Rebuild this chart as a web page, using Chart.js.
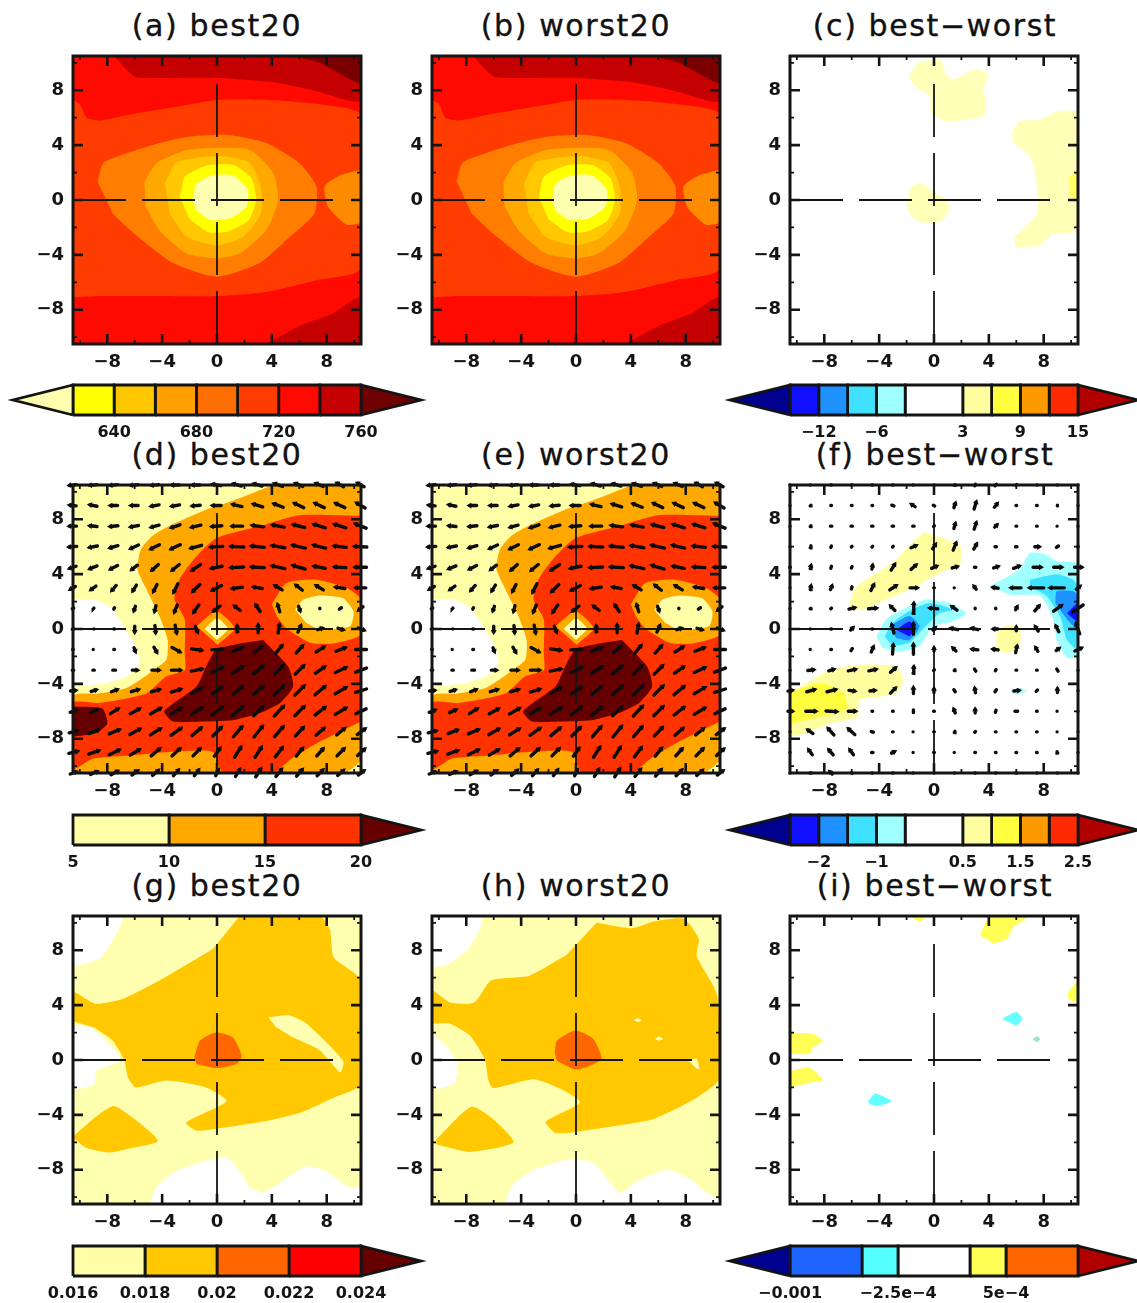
<!DOCTYPE html>
<html>
<head>
<meta charset="utf-8">
<title>best20 / worst20 composites</title>
<script src="https://cdn.jsdelivr.net/npm/chart.js@4"></script>
<style>
  html, body { margin: 0; padding: 0; background: #fff; }
  #page { position: relative; width: 1137px; height: 1303px; overflow: hidden; }
  #page canvas { position: absolute; }
  .title {
    position: absolute; width: 340px; text-align: center; white-space: nowrap;
    font: 30px "DejaVu Sans", sans-serif; letter-spacing: 1.6px; color: #111; line-height: 34px;
    -webkit-text-stroke: 0.35px #111;
  }
</style>
</head>
<body>
<div id="page"></div>
<script>
// axes
const axisTicks = [-8, -4, 0, 4, 8];
const minorTicks = [-10, -6, -2, 2, 6, 10];
const axisMin = -10.5;
const axisMax = 10.5;
const crossEnd = 8.46;

// colour keys
const levelsA = [620, 640, 660, 680, 700, 720, 740, 760];
const coloursA = ['#ffffb0', '#ffff00', '#ffc800', '#ff9f00', '#ff6e00', '#ff3c00', '#ff0a00', '#c40000', '#6e0000'];
const keyTicksA = [640, 680, 720, 760];
const keyLabelsA = ['640', '680', '720', '760'];

const levelsC = [-15, -12, -9, -6, -3, 3, 6, 9, 12, 15];
const coloursDiff = ['#000090', '#1010ff', '#1e90ff', '#40e0ff', '#a0ffff', '#ffffff', '#ffffa0', '#ffff40', '#ff9900', '#ff2a00', '#b00000'];
const keyTicksC = [-12, -6, 3, 9, 15];
const keyLabelsC = ['−12', '−6', '3', '9', '15'];

const levelsD = [5, 10, 15, 20];
const coloursD = ['#ffffa8', '#ffa800', '#ff3300', '#660000'];
const keyLabelsD = ['5', '10', '15', '20'];

const levelsF = [-2.5, -2, -1.5, -1, -0.5, 0.5, 1, 1.5, 2, 2.5];
const keyTicksF = [-2, -1, 0.5, 1.5, 2.5];
const keyLabelsF = ['−2', '−1', '0.5', '1.5', '2.5'];

const levelsG = [0.016, 0.018, 0.02, 0.022, 0.024];
const coloursG = ['#ffffa8', '#ffc800', '#ff6600', '#ff0000', '#660000'];
const keyLabelsG = ['0.016', '0.018', '0.02', '0.022', '0.024'];

const levelsI = [-0.001, -0.0005, -0.00025, 0.00025, 0.0005, 0.001];
const coloursI = ['#000090', '#1e64ff', '#55ffff', '#ffffff', '#ffff55', '#ff6600', '#b00000'];
const keyTicksI = [-0.001, -0.00025, 0.0005];
const keyLabelsI = ['−0.001', '−2.5e−4', '5e−4'];

const fullBox = [[-10.5, -10.5], [10.5, -10.5], [10.5, 10.5], [-10.5, 10.5]];

// (a)(b) contours
const topDark = [[-7.5, 10.5], [-6, 9], [-4, 8.9], [0, 8.9], [4, 8.6], [7, 8], [10.5, 7.2], [10.5, 10.5]];
const topDarkest = [[5.6, 10.5], [7.5, 10], [10.5, 8.5], [10.5, 10.5]];
const bottomDark = [[3.6, -10.5], [6, -9.2], [8.4, -8.3], [10.5, -7.1], [10.5, -10.5]];
const level700 = [[-10.5, 7.3], [-10, 7], [-9.5, 6], [-8.5, 5.8], [-6, 6.3], [-3, 6.8], [0, 7.3], [3.6, 7.3], [7.3, 7], [10.5, 6.2], [10.5, -5], [7.25, -5.85], [3.6, -6.7], [0, -7], [-5, -7], [-8.5, -7], [-10.5, -7.1]];
const level680 = [[-8.7, 1.35], [-8.3, 2.7], [-6.9, 3.3], [-4.4, 4.1], [-2.2, 4.6], [0.7, 4.75], [3.6, 4.15], [6, 2.7], [7.25, 1], [7.1, -1], [5.3, -2.7], [3.1, -4.6], [0, -5.6], [-3.2, -4.6], [-6.1, -2.4], [-7.6, -1]];
const eastBlob = [[10.5, 2.2], [9, 1.8], [7.85, 1], [8.1, -0.5], [9.45, -1.8], [10.5, -1.7]];
const level660 = [[-5.3, 1.3], [-4.4, 2.7], [-2.2, 3.65], [0, 3.8], [2.4, 3.65], [4.1, 2], [4.45, 0], [3.6, -2.2], [1.65, -3.9], [0, -4.25], [-2.2, -3.9], [-4.2, -2.2], [-5.2, -0.5]];
const level640 = [[-3.8, 1.2], [-3, 2.7], [-1.3, 3.1], [0.4, 3.2], [2.4, 2.7], [3.2, 1], [3.2, -1], [1.9, -2.7], [0, -3.3], [-2.2, -2.7], [-3.45, -1]];
const level620 = [[-2.7, 0.2], [-2.35, 1.7], [-0.8, 2.5], [1.2, 2.55], [2.5, 1.6], [2.85, 0], [2.3, -1.5], [0.8, -2.3], [-0.6, -2.35], [-2, -1.4]];
const levelEye = [[-1.75, 0], [-1.5, 1.2], [-0.3, 1.8], [1.15, 1.8], [2.25, 0.75], [2.15, -0.5], [0.9, -1.35], [-0.55, -1.45], [-1.5, -0.75]];
const shapesA = [fullBox, topDark, topDarkest, bottomDark, level700, level680, eastBlob, level660, level640, level620, levelEye];
const fillsA = ['#ff0a00', '#c40000', '#7a0000', '#c40000', '#ff3c00', '#ff7d00', '#ff8c00', '#ffa800', '#ffc800', '#ffff00', '#ffffb0'];

// (c) difference
const cNorth = [[-1.05, 10.1], [-1.8, 9], [-1.3, 8.2], [-0.3, 7.55], [-0.2, 6.35], [0.9, 5.75], [3.6, 6.1], [3.8, 7.1], [3.6, 8.05], [3.95, 9.15], [3.1, 9.55], [1.4, 8.8], [0.9, 9.15], [0.55, 10.25]];
const cCentre = [[-2, -0.25], [-1.65, 1], [-0.9, 1.2], [-0.05, 0.6], [0.9, 0], [1.15, -0.75], [0.4, -1.6], [-1.05, -1.6], [-1.8, -1]];
const cEast = [[5.65, 4.9], [6.25, 5.75], [7.75, 5.85], [8.95, 6.45], [10.5, 6.35], [10.5, -2.2], [8.7, -2.45], [7.75, -3.3], [6, -3.4], [5.9, -2.7], [7.5, -1], [7.5, 1.2], [7, 3.2], [5.8, 4.15]];
const cEdge = [[9.8, 1.7], [10.5, 1.95], [10.5, 0], [9.9, 0.25]];
const shapesC = [cNorth, cCentre, cEast, cEdge];
const fillsC = ['#ffffb8', '#ffffb8', '#ffffb8', '#ffff66'];

// (d)(e) wind speed
const speedWhite = [[-10.5, 2.15], [-8.95, 2.15], [-7.85, 1.65], [-7.1, 0.7], [-6.5, -0.3], [-5.9, -1.25], [-5.65, -2.5], [-6.4, -3.35], [-8.1, -3.95], [-10.5, -4.2]];
const speed10 = [[4.1, 10.5], [1.15, 9.35], [-0.8, 8.7], [-3.2, 7.65], [-4.7, 6.8], [-5.55, 5.8], [-5.8, 4.35], [-5.15, 2.9], [-4.2, 0.95], [-3.6, -0.8], [-3.7, -2.25], [-4.9, -3.2], [-6.6, -4.3], [-8.6, -4.7], [-10.5, -4.9], [-10.5, -10.5], [9.2, -10.5], [10.5, -9.45], [10.5, 10.5]];
const speed15 = [[10.5, 8.25], [6, 8.3], [3.1, 7.5], [0, 6.65], [-1.5, 5.3], [-2.75, 3.6], [-3.1, 2.15], [-2.35, 0.7], [-2.35, -1.75], [-2.35, -3], [-3.7, -3.45], [-5.15, -4.7], [-8.6, -5.4], [-10.5, -5.4], [-10.5, -10.2], [-9.05, -9.45], [-6.15, -9.2], [-3.2, -8.95], [-0.3, -8.95], [0.45, -10.5], [4.1, -10.5], [5.3, -9.55], [7.25, -8.35], [10.5, -6.75]];
const ringEast = [[4, 1.8], [5.05, 3.35], [7.25, 3.6], [9.45, 3], [10.5, 2.15], [10.5, -0.4], [8.5, -1.05], [6.8, -1], [5.05, 0.05], [4.35, 0.95]];
const eyeEast = [[5.7, 1.4], [6.3, 2.15], [7.5, 2.45], [9.2, 2.25], [9.95, 1.3], [9.7, 0.2], [7.5, -0.05], [6.5, 0.45]];
const ringCentre = [[-1.5, 0.2], [-0.05, 1.3], [1.3, 0.05], [0.05, -1.15]];
const eyeCentre = [[-0.9, 0], [0, 0.8], [0.8, 0], [0, -0.8]];
const jetCore = [[3.35, -0.8], [5.2, -2.75], [5.55, -4.2], [4.6, -5.4], [3.1, -6.15], [1.15, -6.65], [-1.25, -6.75], [-3.2, -6.75], [-3.85, -6], [-1.5, -4.2], [-0.8, -2.75], [-0.05, -1.5], [1.65, -1.05]];
const jetWest = [[-10.5, -5.65], [-8.35, -5.8], [-8, -6.9], [-8.85, -7.6], [-10.5, -7.85]];
const shapesD = [fullBox, speedWhite, speed10, speed15, ringEast, eyeEast, ringCentre, eyeCentre, jetCore, jetWest];
const fillsD = ['#ffffa8', '#ffffff', '#ffa800', '#ff3300', '#ffa800', '#ffffa8', '#ffa800', '#ffffa8', '#660000', '#660000'];
const shapesE = [fullBox, speedWhite, speed10, speed15, ringEast, eyeEast, ringCentre, eyeCentre, jetCore];
const fillsE = ['#ffffa8', '#ffffff', '#ffa800', '#ff3300', '#ffa800', '#ffffa8', '#ffa800', '#ffffa8', '#660000'];

// (f) difference
const fPaleNorth = [[-6.15, 1.9], [-5.65, 3.1], [-3, 4.85], [-0.8, 7], [0.15, 6.8], [1.9, 6.05], [1.9, 4.7], [0.4, 4.1], [-1.3, 3.1], [-3.5, 2.15], [-5.2, 1.4], [-6.05, 1.4]];
const fPaleSouth = [[-10.5, -4.7], [-7.65, -3], [-5.45, -2.6], [-2.75, -2.75], [-2.25, -3.7], [-2.75, -4.7], [-5.45, -5.2], [-5.55, -6.4], [-7.65, -6.9], [-9.35, -7.6], [-10.5, -7.85]];
const fYellowSouth = [[-10.5, -4.55], [-8.1, -3.95], [-6.55, -4.7], [-6.4, -5.9], [-8.35, -6.4], [-10.5, -6.9]];
const fPaleEast = [[4.55, -0.3], [5.3, 0.3], [6.25, 0], [6.25, -1.25], [5.3, -1.75], [4.55, -1.5]];
const fCyanEast = [[4.05, 3.1], [6.25, 4.35], [7, 5.55], [8.1, 5.45], [8.95, 4.95], [10.5, 4.7], [10.5, -2], [9.7, -2.1], [8.95, -0.8], [8.7, 0.7], [7.75, 2.4], [5.55, 2.5], [4.55, 2.9]];
const fAquaEast = [[7, 3.6], [8.95, 4], [10.15, 3.6], [10.5, 3.1], [10.5, -1.5], [9.7, -0.8], [9.2, 0.9], [8.2, 2.4], [7, 3.1]];
const fBlueEast = [[8.85, 1.9], [8.95, 2.75], [10.15, 2.75], [10.5, 2.4], [10.5, -0.05], [9.7, 0.7]];
const fDeepEast = [[9.7, 1.15], [10.5, 1.9], [10.5, 0.45]];
const fCyanWest = [[-4.2, -0.55], [-3.5, 0.7], [-1.8, 1.65], [-0.55, 2.15], [1.15, 1.9], [2.35, 1.15], [1.4, 0.55], [-0.05, 0.2], [-1.05, -1.25], [-2.5, -1.65], [-3.75, -1.4]];
const fAquaWest = [[-3.6, -0.55], [-3, 0.45], [-1.65, 1.4], [-0.3, 1.9], [1.4, 1.4], [0.4, 1.15], [-0.8, 0], [-1.8, -1], [-3, -1.25]];
const fBlueWest = [[-3.25, 0.2], [-1.8, 0.95], [-1.05, 0.2], [-1.8, -0.8], [-2.75, -0.65]];
const fDeepWest = [[-2.75, -0.05], [-1.8, 0.55], [-1.3, 0.05], [-1.8, -0.55]];
const fCyanSouth = [[5.55, -4.55], [6.25, -4.3], [6.75, -4.55], [6, -4.8]];
const shapesF = [fPaleNorth, fPaleSouth, fYellowSouth, fPaleEast, fCyanEast, fAquaEast, fBlueEast, fDeepEast, fCyanWest, fAquaWest, fBlueWest, fDeepWest, fCyanSouth];
const fillsF = ['#ffffa0', '#ffffa0', '#ffff40', '#ffffa0', '#a0ffff', '#40e0ff', '#1e90ff', '#1010ff', '#a0ffff', '#40e0ff', '#1e90ff', '#1010ff', '#a0ffff'];

// (g)
const gWhiteNw = [[-10.5, 10.5], [-6.9, 10.45], [-7.6, 8.75], [-8.55, 7.4], [-10.5, 6.8]];
const gWhiteW = [[-10.5, 2.5], [-9.3, 2.4], [-8.1, 1.4], [-7, 0], [-8.8, -0.8], [-8.95, -1.75], [-10, -2.1], [-10.5, -2]];
const gWhiteS = [[-4.9, -10.5], [-4.45, -9.3], [-3, -8.1], [-0.8, -7.35], [0.7, -7.1], [1.65, -8.1], [2.4, -9.3], [3.35, -9.65], [4.8, -8.8], [6.5, -7.75], [8, -8.1], [9.45, -9.2], [10.5, -9.35], [10.5, -10.5]];
const gMain = [[1.65, 10.5], [7.5, 10.5], [8.25, 9.45], [8.5, 7.5], [10.5, 5.8], [10.5, -1.75], [8.5, -2.75], [6.05, -3.85], [3.6, -4.45], [-0.3, -5.05], [-1.5, -5.15], [-2.25, -4.55], [0.7, -3], [-0.8, -2], [-3.7, -1.5], [-5.9, -2], [-6.5, -1.25], [-6.75, -0.05], [-7.6, 1.4], [-9.05, 2.4], [-10.5, 2.9], [-10.5, 4.95], [-8.85, 4.1], [-6.9, 4.45], [-4.2, 5.8], [-0.3, 8.1]];
const gSliver = [[3.75, 3.1], [5.3, 3.25], [6.55, 2.65], [9.2, -0.05], [9, -0.9], [7.5, 0.7], [5.55, 1.65], [4.3, 2.4]];
const gSouthWest = [[-10.3, -5.4], [-8.6, -3.95], [-7.5, -3.35], [-6.15, -4.2], [-4.3, -5.9], [-6.15, -6.4], [-7.85, -6.75], [-9.55, -6.4], [-10.5, -5.65]];
const gCore = [[-1.65, 0.2], [-1.25, 1.4], [-0.05, 2], [1.15, 1.65], [1.8, 0.3], [1.4, -0.3], [-0.05, -0.6], [-1.5, -0.3]];
const shapesG = [fullBox, gWhiteNw, gWhiteW, gWhiteS, gMain, gSliver, gSouthWest, gCore];
const fillsG = ['#ffffb0', '#ffffff', '#ffffff', '#ffffff', '#ffc800', '#ffffb0', '#ffc800', '#ff6600'];

// (h)
const hWhiteNw = [[-10.5, 10.45], [-6.9, 10.45], [-6.9, 9.8], [-7.85, 8.1], [-9.3, 7], [-10.5, 6.75]];
const hWhiteW = [[-10.5, 2], [-9.3, 0.8], [-8.6, -0.4], [-8.85, -1.65], [-9.95, -2.1], [-10.5, -2]];
const hWhiteS = [[-5.2, -10.5], [-4.7, -9.2], [-3.1, -8], [-0.45, -7.25], [1.25, -7.5], [2.5, -8.95], [3.2, -9.7], [4.45, -8.85], [6.65, -8], [8.35, -8.7], [9.55, -9.7], [10.5, -10.2], [10.5, -10.5]];
const hMain = [[1.5, 10], [4.1, 9.6], [5.65, 10.1], [7.85, 10.3], [8.95, 8.85], [8.8, 7.6], [10.3, 4.7], [10.5, -1.3], [8.8, -2.75], [5.65, -4.3], [2.25, -4.9], [-0.9, -5.35], [-1.55, -5.3], [-2.2, -4.5], [0.3, -3.1], [-1.15, -2.1], [-3.1, -1.4], [-6.05, -2.05], [-6.4, -1.4], [-6.65, 0.05], [-7.75, 1.8], [-9.2, 2.65], [-10.5, 2.75], [-10.5, 5.05], [-9.2, 4.2], [-7.4, 4.2], [-6.2, 5.8], [-3.4, 6.15], [-0.7, 7.65]];
const hSpotA = [[4.2, 2.9], [4.5, 3.05], [4.8, 2.9], [4.5, 2.75]];
const hSpotB = [[5.75, 1.55], [6.05, 1.7], [6.35, 1.55], [6.05, 1.4]];
const hSpotC = [[8.2, -0.05], [8.8, 0.1], [9, -0.7], [8.75, -0.6]];
const hSouthWest = [[-10.2, -5.8], [-7.65, -3.4], [-6.05, -4.3], [-4.55, -6], [-7.75, -6.7], [-10.2, -6.15]];
const hCore = [[-1.55, 0.55], [-1.4, 1.4], [-0.05, 2.15], [1.25, 1.55], [1.85, 0.05], [0.05, -0.7], [-1.4, -0.05]];
const shapesH = [fullBox, hWhiteNw, hWhiteW, hWhiteS, hMain, hSpotA, hSpotB, hSpotC, hSouthWest, hCore];
const fillsH = ['#ffffb0', '#ffffff', '#ffffff', '#ffffff', '#ffc800', '#ffffb0', '#ffffb0', '#ffffb0', '#ffc800', '#ff6600'];

// (i) difference
const iNorthEast = [[3.35, 9.1], [3.85, 10.2], [4.2, 10.5], [6.9, 10.5], [5.8, 9.7], [5.3, 8.85], [4.3, 8.5]];
const iNorth = [[-1.8, 10.5], [-0.55, 10.5], [-1, 10.05]];
const iEast = [[10.5, 5.8], [9.8, 4.95], [9.8, 4.45], [10.5, 4.2]];
const iWestUp = [[-10.5, 2], [-8.85, 1.9], [-8.1, 1.4], [-8.85, 0.9], [-9.1, 0.45], [-10.5, 0.45]];
const iWestDown = [[-10.5, -0.8], [-9.1, -0.55], [-8.1, -1.45], [-9.1, -1.65], [-10.5, -2]];
const iCyanEast = [[4.95, 3], [6, 3.5], [6.45, 3], [6, 2.5], [5.5, 2.75]];
const iCyanSpot = [[7.2, 1.5], [7.5, 1.75], [7.75, 1.5], [7.5, 1.3]];
const iCyanWest = [[-4.8, -3], [-4.3, -2.45], [-3.1, -3], [-4.2, -3.35], [-4.7, -3.2]];
const shapesI = [iNorthEast, iNorth, iEast, iWestUp, iWestDown, iCyanEast, iCyanSpot, iCyanWest];
const fillsI = ['#ffff55', '#ffff55', '#ffff55', '#ffff55', '#ffff55', '#66ffff', '#99e6cc', '#66ffff'];

// wind grid, rows run top to bottom
const gridX = [-10.5, -9, -7.5, -6, -4.5, -3, -1.5, 0, 1.5, 3, 4.5, 6, 7.5, 9, 10.5];
const gridY = [10.5, 9, 7.5, 6, 4.5, 3, 1.5, 0, -1.5, -3, -4.5, -6, -7.5, -9, -10.5];

const uBest = [
  [-10, -10, -10, -10, -10, -10, -10, -11, -11, -11, -11, -10, -10, -9, -9],
  [-9, -10, -10, -10, -11, -11, -11, -12, -13, -13, -13, -13, -13, -13, -12],
  [-10, -10, -11, -11, -11, -12, -13, -14, -15, -16, -16, -16, -16, -16, -15],
  [-11, -11, -11, -11, -12, -13, -15, -17, -18, -18, -18, -18, -17, -17, -17],
  [-9, -10, -10, -8, -9, -10, -12, -15, -18, -18, -18, -17, -16, -16, -16],
  [-7, -7, -6, -5, -5, -6, -10, -13, -14, -12, -10, -9, -10, -13, -14],
  [-2, -1, -1, -2, -2, -4, -7, -9, -8, -6, -3, 2, 0, -3, -6],
  [-2, -1, -1, 0, 1, 2, 3, 0, -1, 0, 2, 4, 6, 7, 8],
  [1, 1, 1, 2, 4, 11, 14, 15, 13, 10, 9, 9, 11, 13, 16],
  [2, 2, 4, 7, 10, 13, 15, 15, 14, 13, 12, 12, 13, 15, 16],
  [7, 7, 8, 10, 11, 13, 14, 13, 13, 13, 13, 13, 14, 15, 16],
  [8, 9, 11, 13, 14, 14, 15, 14, 14, 13, 13, 13, 14, 15, 15],
  [11, 13, 14, 14, 14, 14, 13, 12, 12, 12, 12, 11, 11, 11, 11],
  [12, 14, 14, 13, 12, 11, 10, 8, 9, 9, 10, 9, 9, 10, 10],
  [8, 9, 9, 8, 8, 7, 6, 4, 6, 7, 8, 8, 8, 8, 8]
];
const vBest = [
  [-1, -1, -1, -1, -1, 0, 0, 2, 3, 3, 4, 4, 4, 5, 5],
  [1, 2, 0, 0, -2, -2, -1, 0, 3, 4, 5, 6, 6, 6, 7],
  [0, 1, -1, -2, -3, -4, -3, -1, 0, 2, 3, 4, 5, 5, 6],
  [-1, -2, -3, -5, -6, -6, -4, -1, 1, 2, 3, 4, 4, 2, 1],
  [-3, -4, -5, -6, -8, -8, -8, -3, -1, 1, 4, 5, 3, 1, 0],
  [-4, -5, -7, -8, -10, -12, -10, -7, -2, 2, 6, 7, 6, 2, 0],
  [-1, -1, -2, -6, -8, -10, -10, -7, 6, 9, 10, -6, -1, -2, -5],
  [-1, 0, 0, -8, -10, -11, -8, 0, 8, 11, 12, 9, 2, -2, -3],
  [0, 0, 0, -5, -7, -6, -2, 1, 5, 9, 11, 10, 7, 5, 0],
  [0, 0, 0, 0, 0, 0, 3, 7, 9, 11, 12, 12, 9, 7, 6],
  [1, 2, 3, 3, 3, 4, 7, 9, 11, 12, 13, 13, 12, 9, 5],
  [3, 4, 7, 7, 8, 8, 9, 11, 12, 13, 14, 13, 11, 9, 7],
  [3, 5, 6, 8, 9, 10, 11, 12, 14, 15, 14, 12, 10, 9, 8],
  [3, 5, 7, 8, 10, 10, 10, 11, 14, 14, 13, 11, 10, 10, 9],
  [3, 4, 5, 6, 7, 8, 8, 8, 10, 11, 10, 9, 8, 7, 6]
];
const uDiff = [
  [0, 1, 1, 1, 1, 1, 1, 0, 1, 1, 2, 1, 0, 0, 0],
  [0, 1, 1, 1, 1, -3, -5, -2, 2, 3, 4, 1, 1, 0, 0],
  [0, 1, 2, 2, 2, 2, 2, 1, 2, 3, 3, 1, 1, 1, 0],
  [0, 1, 1, 1, 1, 1, 7, 4, 4, 4, 2, 2, 6, 3, 1],
  [1, 1, 1, 1, 1, 5, 7, 7, 7, 2, 6, 8, 11, 11, 10],
  [0, 1, 2, 1, 4, 9, 10, 1, 1, -3, -7, -14, -20, -20, 5],
  [0, 1, 1, 8, 11, -6, 1, -11, -7, 0, 0, 2, 6, 11, 15],
  [0, 1, 1, 3, 1, -3, 0, 3, -9, -8, -6, 0, -4, -4, -5],
  [0, 1, 1, 2, 3, 1, 0, 0, -4, -8, -7, 2, -3, 4, 9],
  [0, 8, 7, 10, 10, 7, 1, 1, 1, -2, 1, 1, 1, -2, 0],
  [6, 11, 12, 8, 7, 7, 0, 0, -2, -1, 2, 7, 2, 0, 0],
  [6, 14, 15, 10, 1, 1, 0, 1, -2, 0, 1, 4, 1, 1, 0],
  [0, -7, -8, -9, -3, 1, 1, 1, 1, 1, 1, 1, 1, 1, 0],
  [0, -5, -6, -5, 2, 4, 1, 1, 1, 1, 1, 1, 1, -1, 0],
  [0, 2, -3, -1, 1, 1, 1, 0, 0, 1, 1, 1, 0, 0, 0]
];
const vDiff = [
  [0, 0, 0, 0, 0, 0, 0, 0, 1, 2, 2, 1, 0, 0, 0],
  [0, 1, 0, 0, 0, 1, 3, 1, 6, 10, 5, 0, 0, 1, 0],
  [0, 1, 0, 0, 0, 0, 0, 1, 7, 9, 3, 0, 0, 0, 0],
  [0, 3, 2, 1, 1, 1, 3, 6, 10, 7, 0, 0, 0, 2, 0],
  [0, 4, 3, 2, 5, 8, 6, 3, 2, 0, 2, 3, 0, 0, 0],
  [0, 5, 5, 3, 8, 6, 0, 0, 0, 4, 1, 0, 0, 0, 4],
  [0, 1, 1, 2, 1, 6, 14, 1, 5, 1, 1, 4, 7, 8, 10],
  [0, 0, 0, 3, 0, 12, 15, 3, 2, 2, 0, 5, 6, 8, 14],
  [0, 0, 0, 3, 7, 13, 14, 4, 4, 1, 1, 9, 5, 3, 4],
  [0, 1, 2, 2, 2, 6, 9, 1, 1, 3, 2, 0, 0, 3, 0],
  [1, 3, 3, -1, 1, 7, 8, 5, 3, 6, 3, 1, 2, 5, 0],
  [0, 0, -1, 0, 0, 0, 4, 0, 5, 5, 3, 0, 0, 0, 0],
  [0, 5, 9, 8, 1, 0, 0, 0, 2, 1, 0, 0, 0, 0, 0],
  [0, 7, 7, 7, 0, 2, 0, 0, 0, 0, 0, 0, 0, 2, 0],
  [0, 0, 3, 1, 0, 0, 0, 0, 0, 0, 0, 0, 0, 0, 0]
];

const page = document.getElementById('page');
const ink = '#141414';
const columns = [73, 432, 790];
const rows = [56, 485, 916];
const plotSize = 288;
const vectorScale = 0.05;   // degrees of arrow per wind unit

function addCanvas(left, top, w, h) {
  const c = document.createElement('canvas');
  c.width = w;
  c.height = h;
  c.style.left = left + 'px';
  c.style.top = top + 'px';
  c.style.width = w + 'px';
  c.style.height = h + 'px';
  page.appendChild(c);
  return c;
}

function addTitle(text, centre, top) {
  const d = document.createElement('div');
  d.className = 'title';
  d.textContent = text;
  d.style.left = (centre - 170) + 'px';
  d.style.top = top + 'px';
  page.appendChild(d);
}

function toPoints(shape) {
  return shape.map(p => ({ x: p[0], y: p[1] }));
}

function fieldDatasets(shapes, fills) {
  return shapes.map((shape, i) => ({
    data: toPoints(shape),
    showLine: true,
    fill: 'shape',
    backgroundColor: fills[i],
    borderColor: fills[i],
    borderWidth: 0,
    pointRadius: 0,
    tension: 0.2,
    order: 1000 - i
  }));
}

function crossDatasets() {
  const lines = [
    [{ x: axisMin, y: 0 }, { x: crossEnd, y: 0 }],
    [{ x: 0, y: axisMin }, { x: 0, y: crossEnd }]
  ];
  return lines.map(data => ({
    data,
    showLine: true,
    fill: false,
    borderColor: ink,
    borderWidth: 1.8,
    borderDash: [53, 16],
    pointRadius: 0,
    order: 2
  }));
}

function vectorDataset(u, v) {
  const data = [];
  const angles = [];
  gridY.forEach((y, r) => {
    gridX.forEach((x, c) => {
      const dx = u[r][c] * vectorScale / 2;
      const dy = v[r][c] * vectorScale / 2;
      data.push({ x: x - dx, y: y - dy }, { x: x + dx, y: y + dy }, { x: NaN, y: NaN });
      angles.push(0, Math.atan2(u[r][c], v[r][c]) * 180 / Math.PI, 0);
    });
  });
  return {
    data,
    showLine: true,
    fill: false,
    clip: false,
    borderColor: '#0c0c0c',
    backgroundColor: '#0c0c0c',
    borderWidth: 3.4,
    borderCapStyle: 'round',
    spanGaps: false,
    pointStyle: 'triangle',
    pointRadius: ctx => (ctx.dataIndex % 3 === 1 && Math.hypot(data[ctx.dataIndex].x - data[ctx.dataIndex - 1].x, data[ctx.dataIndex].y - data[ctx.dataIndex - 1].y) > 0.2 ? 3.4 : 0),
    pointRotation: ctx => angles[ctx.dataIndex],
    pointBorderWidth: 0,
    order: 1
  };
}

// frame and inward ticks on all four sides
const framePlugin = {
  id: 'frame',
  afterDatasetsDraw(chart) {
    const { ctx, chartArea: a, scales } = chart;
    const mark = (values, len, w) => {
      ctx.lineWidth = w;
      ctx.beginPath();
      values.forEach(val => {
        const px = scales.x.getPixelForValue(val);
        const py = scales.y.getPixelForValue(val);
        ctx.moveTo(px, a.top); ctx.lineTo(px, a.top + len);
        ctx.moveTo(px, a.bottom); ctx.lineTo(px, a.bottom - len);
        ctx.moveTo(a.left, py); ctx.lineTo(a.left + len, py);
        ctx.moveTo(a.right, py); ctx.lineTo(a.right - len, py);
      });
      ctx.stroke();
    };
    ctx.save();
    ctx.strokeStyle = ink;
    mark(axisTicks, 10, 2.6);
    mark(minorTicks, 4, 1.8);
    ctx.lineWidth = 3;
    ctx.strokeRect(a.left, a.top, a.right - a.left, a.bottom - a.top);
    ctx.restore();
  }
};

function minusLabel(value) {
  return String(value).replace('-', '−');
}

function drawPanel(col, row, title, shapes, fills, u, v) {
  const left = columns[col];
  const top = rows[row];
  const datasets = fieldDatasets(shapes, fills).concat(crossDatasets());
  if (u) datasets.push(vectorDataset(u, v));
  addTitle(title, left + 144 + (col === 2 ? 1 : 0), top - 47);
  new Chart(addCanvas(left - 60, top - 10, plotSize + 72, plotSize + 42), {
    type: 'scatter',
    data: { datasets },
    plugins: [framePlugin],
    options: {
      responsive: false,
      animation: false,
      events: [],
      layout: { padding: { left: 8, right: 12, top: 10, bottom: 0 } },
      plugins: { legend: { display: false }, tooltip: { enabled: false } },
      scales: {
        x: {
          type: 'linear', min: axisMin, max: axisMax,
          grid: { display: false, drawTicks: false }, border: { display: false },
          afterBuildTicks: s => { s.ticks = axisTicks.map(t => ({ value: t })); },
          afterFit: s => { s.height = 32; s.paddingLeft = 0; s.paddingRight = 0; },
          ticks: { autoSkip: false, maxRotation: 0, padding: 8, color: ink, callback: minusLabel, font: { family: 'DejaVu Sans', weight: 'bold', size: 18 } }
        },
        y: {
          type: 'linear', min: axisMin, max: axisMax,
          grid: { display: false, drawTicks: false }, border: { display: false },
          afterBuildTicks: s => { s.ticks = axisTicks.map(t => ({ value: t })); },
          afterFit: s => { s.width = 52; s.paddingTop = 0; s.paddingBottom = 0; },
          ticks: { autoSkip: false, padding: 9, color: ink, callback: minusLabel, font: { family: 'DejaVu Sans', weight: 'bold', size: 18 } }
        }
      }
    }
  });
}

function drawKey(col, top, levels, colours, tickValues, tickLabels, hasLeft) {
  const left = columns[col];
  const span = levels[levels.length - 1] - levels[0];
  const ext = span * 60 / plotSize;
  const boxes = [];
  if (hasLeft) {
    boxes.push([[levels[0], 0], [levels[0] - ext, 0.5], [levels[0], 1], [levels[0], 0]]);
  }
  levels.slice(1).forEach((lev, i) => {
    boxes.push([[levels[i], 0], [lev, 0], [lev, 1], [levels[i], 1], [levels[i], 0]]);
  });
  const last = levels[levels.length - 1];
  boxes.push([[last, 0], [last + ext, 0.5], [last, 1], [last, 0]]);
  const datasets = boxes.map((box, i) => ({
    data: toPoints(box),
    showLine: true,
    fill: 'shape',
    clip: false,
    backgroundColor: colours[i],
    borderColor: ink,
    borderWidth: 2.8,
    pointRadius: 0
  }));
  new Chart(addCanvas(left - 70, top - 3, plotSize + 140, 62), {
    type: 'scatter',
    data: { datasets },
    options: {
      responsive: false,
      animation: false,
      events: [],
      layout: { padding: { left: 10, right: 10, top: 3, bottom: 0 } },
      plugins: { legend: { display: false }, tooltip: { enabled: false } },
      scales: {
        x: {
          type: 'linear', min: levels[0] - ext, max: last + ext,
          grid: { display: false, drawTicks: false }, border: { display: false },
          afterBuildTicks: s => { s.ticks = tickValues.map(t => ({ value: t })); },
          afterFit: s => { s.height = 29; s.paddingLeft = 0; s.paddingRight = 0; },
          ticks: {
            autoSkip: false, maxRotation: 0, padding: 8, color: ink,
            callback: val => tickLabels[tickValues.indexOf(val)],
            font: { family: 'DejaVu Sans', weight: 'bold', size: 16 }
          }
        },
        y: { type: 'linear', min: 0, max: 1, display: false }
      }
    }
  });
}

drawPanel(0, 0, '(a) best20', shapesA, fillsA);
drawPanel(1, 0, '(b) worst20', shapesA, fillsA);
drawPanel(2, 0, '(c) best−worst', shapesC, fillsC);
drawPanel(0, 1, '(d) best20', shapesD, fillsD, uBest, vBest);
drawPanel(1, 1, '(e) worst20', shapesE, fillsE, uBest, vBest);
drawPanel(2, 1, '(f) best−worst', shapesF, fillsF, uDiff, vDiff);
drawPanel(0, 2, '(g) best20', shapesG, fillsG);
drawPanel(1, 2, '(h) worst20', shapesH, fillsH);
drawPanel(2, 2, '(i) best−worst', shapesI, fillsI);

drawKey(0, 385, levelsA, coloursA, keyTicksA, keyLabelsA, true);
drawKey(2, 385, levelsC, coloursDiff, keyTicksC, keyLabelsC, true);
drawKey(0, 815, levelsD, coloursD, levelsD, keyLabelsD, false);
drawKey(2, 815, levelsF, coloursDiff, keyTicksF, keyLabelsF, true);
drawKey(0, 1246, levelsG, coloursG, levelsG, keyLabelsG, false);
drawKey(2, 1246, levelsI, coloursI, keyTicksI, keyLabelsI, true);
</script>
</body>
</html>
